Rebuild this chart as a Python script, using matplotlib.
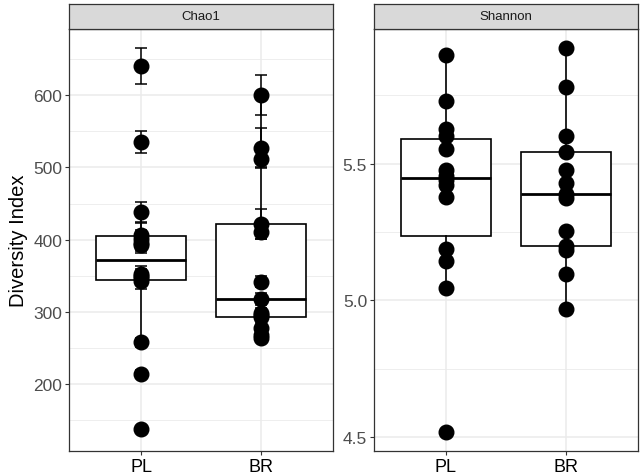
import numpy as np
import matplotlib.pyplot as plt

plt.rcParams['font.family'] = ['Liberation Sans', 'DejaVu Sans']

# Datos
grupos = ["PL", "BR"]
chao1_pl = [640, 535, 438, 407, 401, 396, 392, 353, 350, 347, 343, 258, 214, 138]
chao1_pl_se = [25, 15, 14, 16, 12, 12, 10, 10, 10, 10, 12, 6, 5, 4]
chao1_br = [600, 527, 512, 422, 411, 342, 318, 299, 295, 293, 278, 268, 264]
chao1_br_se = [28, 28, 12, 21, 10, 8, 8, 6, 6, 6, 6, 5, 5]
shannon_pl = [5.897, 5.728, 5.628, 5.60, 5.554, 5.477, 5.455, 5.44, 5.42,
              5.378, 5.186, 5.144, 5.044, 4.519]
shannon_br = [5.922, 5.78, 5.6, 5.541, 5.477, 5.43, 5.388, 5.375, 5.254,
              5.197, 5.185, 5.097, 4.968]

GRIS_BORDE = '#333333'
GRIS_GRID = '#EBEBEB'


def panel(fig, rect, titulo, series, errores, mayores, menores):
    ax = fig.add_axes(rect)
    pos = np.arange(1, len(series) + 1)

    # Cajas
    ax.boxplot(series, positions=pos, widths=0.75, patch_artist=True,
               showfliers=False, showcaps=False,
               boxprops=dict(facecolor='white', edgecolor='black', linewidth=1.2),
               medianprops=dict(color='black', linewidth=2.0),
               whiskerprops=dict(color='black', linewidth=1.2), zorder=2)

    # Puntos y barras de error
    todos_min, todos_max = [], []
    for i, vals in enumerate(series):
        vals = np.array(vals)
        se = np.array(errores[i]) if errores is not None else np.zeros_like(vals)
        ax.plot(np.full(len(vals), pos[i]), vals, 'o', color='black', ms=10.5, zorder=3)
        if errores is not None:
            ax.errorbar(np.full(len(vals), pos[i]), vals, yerr=se, fmt='none',
                        ecolor='black', elinewidth=1.1, capsize=4.3, capthick=1.1,
                        zorder=4)
        todos_min.append((vals - se).min())
        todos_max.append((vals + se).max())

    lo, hi = min(todos_min), max(todos_max)
    rango = hi - lo
    ax.set_ylim(lo - 0.05 * rango, hi + 0.05 * rango)
    ax.set_xlim(0.4, len(series) + 0.6)

    ax.set_yticks(mayores)
    ax.set_yticks(menores, minor=True)
    ax.set_xticks(pos)
    ax.set_xticklabels(grupos)
    ax.tick_params(axis='y', which='major', labelsize=12.5, labelcolor='#4D4D4D',
                   color=GRIS_BORDE, length=2.75, width=0.8, pad=2.2)
    ax.tick_params(axis='y', which='minor', length=0)
    ax.tick_params(axis='x', labelsize=13, labelcolor='black',
                   color=GRIS_BORDE, length=2.75, width=0.8, pad=2.0)

    ax.grid(True, which='major', color=GRIS_GRID, linewidth=1.1, zorder=0)
    ax.grid(True, which='minor', axis='y', color=GRIS_GRID, linewidth=0.6, zorder=0)
    ax.set_axisbelow(True)
    for s in ax.spines.values():
        s.set_color(GRIS_BORDE)
        s.set_linewidth(0.9)

    # Tira con el titulo del panel
    tira = fig.add_axes([rect[0], rect[1] + rect[3], rect[2], 25 / 477])
    tira.set_facecolor('#D9D9D9')
    tira.set_xticks([])
    tira.set_yticks([])
    for s in tira.spines.values():
        s.set_color(GRIS_BORDE)
        s.set_linewidth(0.9)
    tira.text(0.5, 0.5, titulo, ha='center', va='center', fontsize=9.5,
              color='#1A1A1A', transform=tira.transAxes)
    return ax


fig = plt.figure(figsize=(6.42, 4.77), dpi=100)

ax1 = panel(fig, [69 / 642, 25 / 477, 264 / 642, 422 / 477], "Chao1",
            [chao1_pl, chao1_br], [chao1_pl_se, chao1_br_se],
            [200, 300, 400, 500, 600], [150, 250, 350, 450, 550, 650])
ax1.set_ylabel("Diversity Index", fontsize=14.5, labelpad=4)

ax2 = panel(fig, [374 / 642, 25 / 477, 264 / 642, 422 / 477], "Shannon",
            [shannon_pl, shannon_br], None,
            [4.5, 5.0, 5.5], [4.75, 5.25, 5.75])

fig.savefig("out.png", dpi=100)
